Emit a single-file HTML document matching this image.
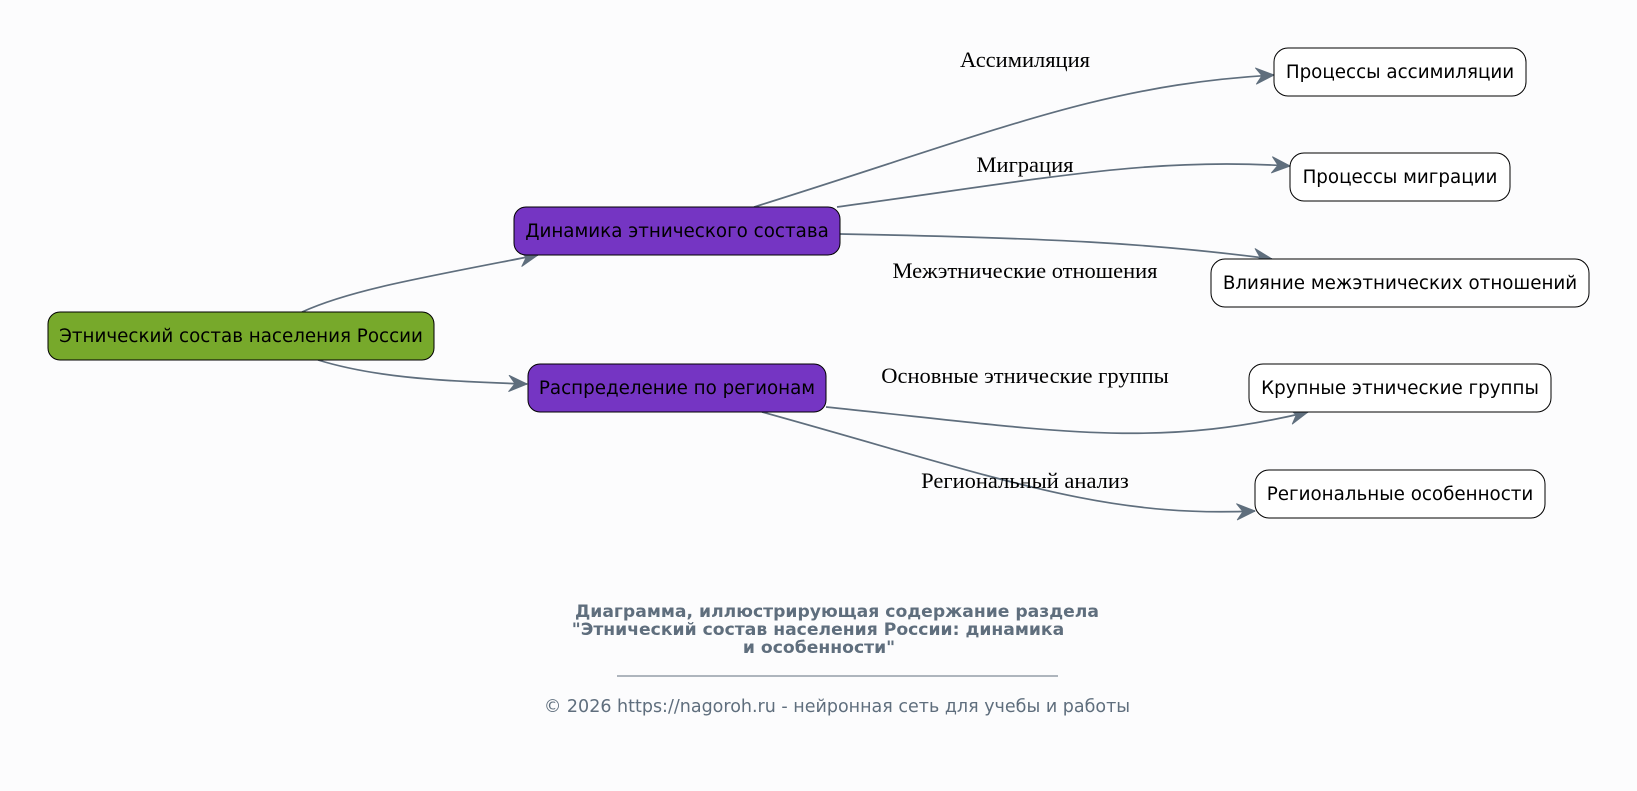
<!DOCTYPE html>
<html><head><meta charset="utf-8"><style>
html,body{margin:0;padding:0;background:#fcfcfd;}
svg{display:block;}
.n{font-family:"DejaVu Sans","Liberation Sans",sans-serif;font-size:18.3px;fill:#000;}
.l{font-family:"Liberation Serif","DejaVu Serif",serif;font-size:22.5px;fill:#000;}
.e{fill:none;stroke:#5f6e7d;stroke-width:1.7;}
.t{font-family:"DejaVu Sans","Liberation Sans",sans-serif;font-size:17.2px;font-weight:bold;fill:#5f6e7d;}
.c{font-family:"DejaVu Sans","Liberation Sans",sans-serif;font-size:17.5px;fill:#5f6e7d;}
</style></head><body>
<svg width="1637" height="791" viewBox="0 0 1637 791" xmlns="http://www.w3.org/2000/svg">
<defs><marker id="a" markerWidth="22" markerHeight="18" refX="20" refY="9" orient="auto" markerUnits="userSpaceOnUse"><path d="M2,1 L20,9 L2,17 L8,9 Z" fill="#5f6e7d" stroke="#5f6e7d" stroke-width="1" stroke-linejoin="round"/></marker></defs>
<path class="e" marker-end="url(#a)" d="M302,312 C350,290 420,278 538,255"/>
<path class="e" marker-end="url(#a)" d="M318,360 C370,376 430,381 527,384"/>
<path class="e" marker-end="url(#a)" d="M754,207 C1000,130 1100,85 1274,75"/>
<path class="e" marker-end="url(#a)" d="M837,207 C1050,178 1150,157 1290,166"/>
<path class="e" marker-end="url(#a)" d="M840,234 C1050,238 1150,243 1272,259"/>
<path class="e" marker-end="url(#a)" d="M826,407 C1050,430 1150,450 1308,412"/>
<path class="e" marker-end="url(#a)" d="M762,412 C1000,478 1100,518 1255,511"/>
<rect x="48" y="312" width="386" height="48" rx="12" fill="#77a92b" stroke="#000"/>
<text class="n" x="241" y="342" text-anchor="middle">Этнический состав населения России</text>
<rect x="514" y="207" width="326" height="48" rx="12" fill="#7535c3" stroke="#000"/>
<text class="n" x="677" y="237" text-anchor="middle">Динамика этнического состава</text>
<rect x="528" y="364" width="298" height="48" rx="12" fill="#7535c3" stroke="#000"/>
<text class="n" x="677" y="394" text-anchor="middle">Распределение по регионам</text>
<rect x="1274" y="48" width="252" height="48" rx="14" fill="#fff" stroke="#000"/>
<text class="n" x="1400" y="78" text-anchor="middle">Процессы ассимиляции</text>
<rect x="1290" y="153" width="220" height="48" rx="14" fill="#fff" stroke="#000"/>
<text class="n" x="1400" y="183" text-anchor="middle">Процессы миграции</text>
<rect x="1211" y="259" width="378" height="48" rx="14" fill="#fff" stroke="#000"/>
<text class="n" x="1400" y="289" text-anchor="middle">Влияние межэтнических отношений</text>
<rect x="1249" y="364" width="302" height="48" rx="14" fill="#fff" stroke="#000"/>
<text class="n" x="1400" y="394" text-anchor="middle">Крупные этнические группы</text>
<rect x="1255" y="470" width="290" height="48" rx="14" fill="#fff" stroke="#000"/>
<text class="n" x="1400" y="500" text-anchor="middle">Региональные особенности</text>
<text class="l" x="1025" y="67" text-anchor="middle">Ассимиляция</text>
<text class="l" x="1025" y="172" text-anchor="middle">Миграция</text>
<text class="l" x="1025" y="278" text-anchor="middle">Межэтнические отношения</text>
<text class="l" x="1025" y="383" text-anchor="middle">Основные этнические группы</text>
<text class="l" x="1025" y="488" text-anchor="middle">Региональный анализ</text>
<text class="t" x="837" y="617" text-anchor="middle">Диаграмма, иллюстрирующая содержание раздела</text>
<text class="t" x="818" y="635" text-anchor="middle">"Этнический состав населения России: динамика</text>
<text class="t" x="819" y="653" text-anchor="middle">и особенности"</text>
<line x1="617" y1="676" x2="1058" y2="676" stroke="#5f6e7d" stroke-width="1"/>
<text class="c" x="837" y="712" text-anchor="middle">© 2026 https://nagoroh.ru - нейронная сеть для учебы и работы</text>
</svg>
</body></html>
